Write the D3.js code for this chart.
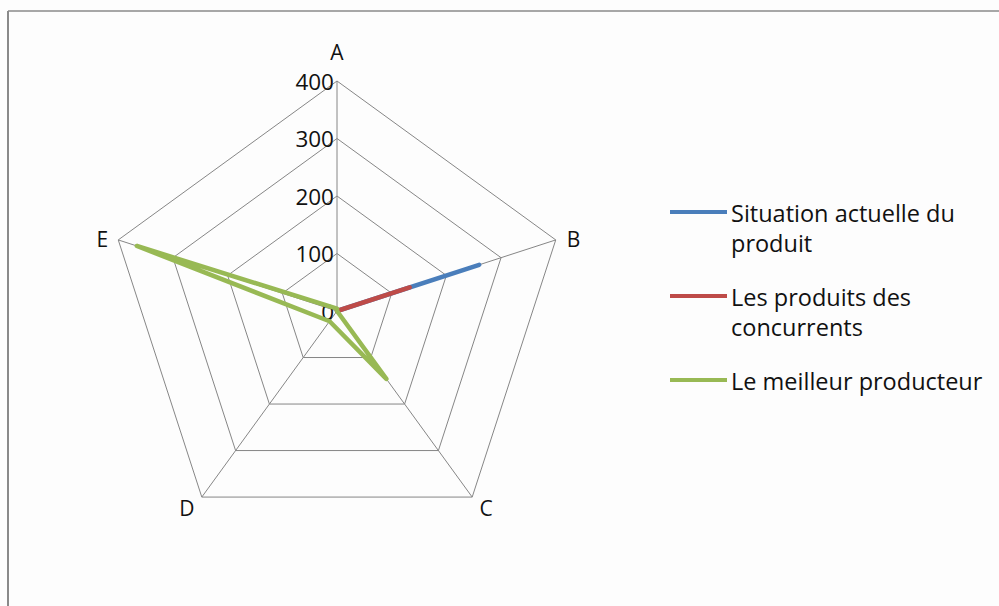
<!DOCTYPE html>
<html>
<head>
<meta charset="utf-8">
<script src="https://cdn.jsdelivr.net/npm/d3@7"></script>
<style>
  html, body { margin: 0; padding: 0; background: #fdfdfd; }
  svg { display: block; font-family: "Open Sans", "Liberation Sans", sans-serif; }
</style>
</head>
<body>
<svg id="chart" width="999" height="606"></svg>
<script>
// Axes of the radar
const categories = ["A", "B", "C", "D", "E"];
// Radial tick labels
const tickValues = [0, 100, 200, 300, 400];
// Series
const seriesNames = ["Situation actuelle du produit", "Les produits des concurrents", "Le meilleur producteur"];
const situationActuelle = [0, 260, 0, 0, 0];
const produitsConcurrents = [0, 133, 0, 0, 0];
const meilleurProducteur = [4, 0, 146, 22, 366];
const seriesColors = ["#4a7ebb", "#be4b48", "#98b954"];
const legendLines = [["Situation actuelle du", "produit"], ["Les produits des", "concurrents"], ["Le meilleur producteur"]];

const svg = d3.select("#chart");
const W = 999, H = 606;

svg.append("rect").attr("width", W).attr("height", H).attr("fill", "#fdfdfd");

// chart frame (top and left edges visible)
svg.append("line").attr("x1", 8).attr("y1", 11).attr("x2", W).attr("y2", 11)
  .attr("stroke", "#8a8a8a").attr("stroke-width", 1.5);
svg.append("line").attr("x1", 8).attr("y1", 11).attr("x2", 8).attr("y2", H)
  .attr("stroke", "#8a8a8a").attr("stroke-width", 2);

const cx = 337, cy = 311, R = 230;
const r = d3.scaleLinear().domain([0, 400]).range([0, R]);
const angle = d3.scalePoint().domain(categories).range([0, 2 * Math.PI * (categories.length - 1) / categories.length]);

const g = svg.append("g").attr("transform", `translate(${cx},${cy})`);

const pt = (cat, v) => {
  const a = angle(cat);
  return [Math.sin(a) * r(v), -Math.cos(a) * r(v)];
};

// grid rings
tickValues.filter(t => t > 0).forEach(t => {
  g.append("path")
    .attr("d", d3.line()(categories.map(c => pt(c, t))) + "Z")
    .attr("fill", "none").attr("stroke", "#868686").attr("stroke-width", 1);
});

// spokes
categories.forEach(c => {
  const [x, y] = pt(c, 400);
  g.append("line").attr("x1", 0).attr("y1", 0).attr("x2", x).attr("y2", y)
    .attr("stroke", "#868686").attr("stroke-width", 1);
});

// category labels
const labelPos = {
  A: { dx: 0, dy: -29, anchor: "middle" },
  B: { dx: 11, dy: -1, anchor: "start" },
  C: { dx: 14, dy: 11, anchor: "middle" },
  D: { dx: -15, dy: 11, anchor: "middle" },
  E: { dx: -10, dy: -1, anchor: "end" }
};
categories.forEach(c => {
  const [x, y] = pt(c, 400);
  const p = labelPos[c];
  g.append("text").attr("x", x + p.dx).attr("y", y + p.dy)
    .attr("text-anchor", p.anchor).attr("dominant-baseline", "central")
    .attr("font-size", 21).attr("fill", "#111").text(c);
});

// radial tick labels
tickValues.forEach(t => {
  g.append("text").attr("x", -3).attr("y", -r(t))
    .attr("text-anchor", "end").attr("dominant-baseline", "central")
    .attr("font-size", 22.5).attr("fill", "#111").text(t);
});

// series polygons
const radial = d3.lineRadial()
  .angle((d, i) => angle(categories[i]))
  .radius(d => r(d))
  .curve(d3.curveLinearClosed);

[situationActuelle, produitsConcurrents, meilleurProducteur].forEach((vals, i) => {
  g.append("path").attr("d", radial(vals))
    .attr("fill", "none").attr("stroke", seriesColors[i])
    .attr("stroke-width", 4.5).attr("stroke-linejoin", "round");
});

// legend
const legendY = [212, 296, 380];
const lg = svg.append("g");
legendLines.forEach((lines, i) => {
  const y = legendY[i];
  lg.append("line").attr("x1", 670).attr("x2", 727).attr("y1", y).attr("y2", y)
    .attr("stroke", seriesColors[i]).attr("stroke-width", 4);
  lines.forEach((txt, j) => {
    lg.append("text").attr("x", 731).attr("y", y + 10 + j * 30)
      .attr("font-size", 23.5).attr("fill", "#111").text(txt);
  });
});
</script>
</body>
</html>
